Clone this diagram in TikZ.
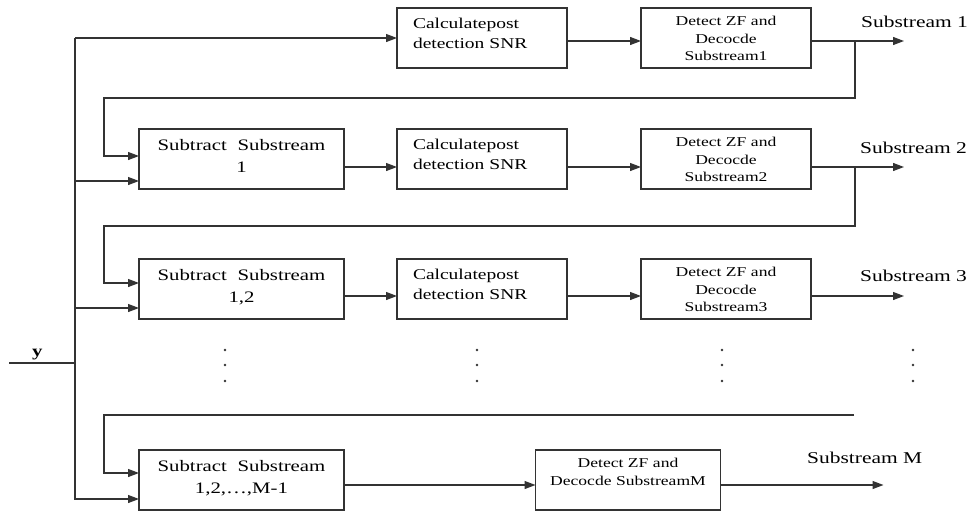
\documentclass[tikz,border=0pt]{standalone}
\usepackage{fontspec}
\setmainfont{Liberation Serif}[FakeStretch=1.3]
\usetikzlibrary{arrows.meta,positioning,calc}
\definecolor{ink}{HTML}{333333}
\newcommand{\topc}[2]{\parbox[c][#1][t]{\linewidth}{\centering #2}}
\newcommand{\topl}[2]{\parbox[c][#1][t]{\linewidth}{\raggedright #2}}
\tikzset{blk/.style={draw=ink,line width=1.2pt,minimum height=60pt,inner sep=0pt,outer sep=0pt},calcbox/.style={blk,text width=138pt,inner xsep=16pt,font=\fontsize{15}{20}\selectfont},subbox/.style={blk,text width=205pt,font=\fontsize{16}{22}\selectfont},detbox/.style={blk,text width=170pt,font=\fontsize{13.5}{17.5}\selectfont},arr/.style={draw=ink,line width=1.2pt,-{Triangle[length=11pt,width=8pt]}},ln/.style={draw=ink,line width=1.2pt},outlab/.style={font=\fontsize{16.5}{20}\selectfont,inner sep=0pt,anchor=west}}

\begin{document}
\begin{tikzpicture}[x=1pt,y=-1pt]
\useasboundingbox (0,0) rectangle (970,512);
% blocks
\node[calcbox] (calc1) at (482,38) {\topl{40pt}{Calculatepost\\detection SNR}};
\node[detbox,right=74pt of calc1] (det1) {\topc{43pt}{Detect ZF and\\Decocde\\Substream1}};
\node[calcbox,below=61pt of calc1] (calc2) {\topl{40pt}{Calculatepost\\detection SNR}};
\node[detbox,below=61pt of det1] (det2) {\topc{43pt}{Detect ZF and\\Decocde\\Substream2}};
\node[subbox,left=53pt of calc2] (sub1) {\topc{40pt}{Subtract~~Substream\\1}};
\node[calcbox,below=70pt of calc2] (calc3) {\topl{40pt}{Calculatepost\\detection SNR}};
\node[detbox,below=70pt of det2] (det3) {\topc{43pt}{Detect ZF and\\Decocde\\Substream3}};
\node[subbox,left=53pt of calc3] (sub2) {\topc{40pt}{Subtract~~Substream\\1,2}};
\node[subbox,below=131pt of sub2] (subM) {\topc{40pt}{Subtract~~Substream\\1,2,\ldots,M-1}};
\node[detbox,text width=185pt,right=191.5pt of subM] (detM) {\topc{43pt}{Detect ZF and\\Decocde SubstreamM}};
% outputs
\node[outlab] (s1) at (861,22) {Substream 1};
\node[outlab] (s2) at (860,148) {Substream 2};
\node[outlab] (s3) at (860,276) {Substream 3};
\node[outlab] (sM) at (807,458) {Substream M};
% input y and trunk
\coordinate (yin) at (9,363);
\coordinate (ytap) at (75,363);
\coordinate (in1) at ([yshift=-22pt]sub1.west);
\coordinate (in2) at ([yshift=-19pt]sub2.west);
\coordinate (inM) at ([yshift=-19pt]subM.west);
\draw[ln] (yin) -- node[pos=.43,above=1pt,inner sep=1pt,font=\bfseries\fontsize{16}{18}\selectfont] (ylab) {y} (ytap);
\draw[arr] (ytap |- calc1.west) -- (calc1.west);
\draw[arr] (ytap |- calc1.west) |- (inM);
\draw[arr] (ytap |- in1) -- (in1);
\draw[arr] (ytap |- in2) -- (in2);
% row 1
\coordinate (t1) at ($(det1.east)+(44,3)$);
\coordinate (o1) at ($(det1.east)+(93,3)$);
\coordinate (f1) at (104,98);
\draw[arr] ($(calc1.east)+(0,3)$) -- ($(det1.west)+(0,3)$);
\draw[arr] ($(det1.east)+(0,3)$) -- (o1);
\draw[arr] (t1) |- (f1) |- ([yshift=3pt]sub1.west);
% row 2
\coordinate (t2) at ($(det2.east)+(44,8)$);
\coordinate (o2) at ($(det2.east)+(93,8)$);
\coordinate (f2) at (104,226);
\draw[arr] ($(sub1.east)+(0,8)$) -- ($(calc2.west)+(0,8)$);
\draw[arr] ($(calc2.east)+(0,8)$) -- ($(det2.west)+(0,8)$);
\draw[arr] ($(det2.east)+(0,8)$) -- (o2);
\draw[arr] (t2) |- (f2) |- ([yshift=6pt]sub2.west);
% row 3
\coordinate (o3) at ($(det3.east)+(93,7)$);
\draw[arr] ($(sub2.east)+(0,7)$) -- ($(calc3.west)+(0,7)$);
\draw[arr] ($(calc3.east)+(0,7)$) -- ($(det3.west)+(0,7)$);
\draw[arr] ($(det3.east)+(0,7)$) -- (o3);
% row M
\coordinate (gM) at (854,415);
\coordinate (fM) at (104,415);
\coordinate (oM) at ($(detM.east)+(163,5)$);
\draw[arr] (gM) -- (fM) |- ([yshift=7pt]subM.west);
\draw[arr] ($(subM.east)+(0,5)$) -- ($(detM.west)+(0,5)$);
\draw[arr] ($(detM.east)+(0,5)$) -- (oM);
% dots
\foreach \x in {225,477,722,913}
  \foreach \y in {350,365,381}
    \fill[ink] (\x,\y) circle (1.4pt);
\end{tikzpicture}
\end{document}
